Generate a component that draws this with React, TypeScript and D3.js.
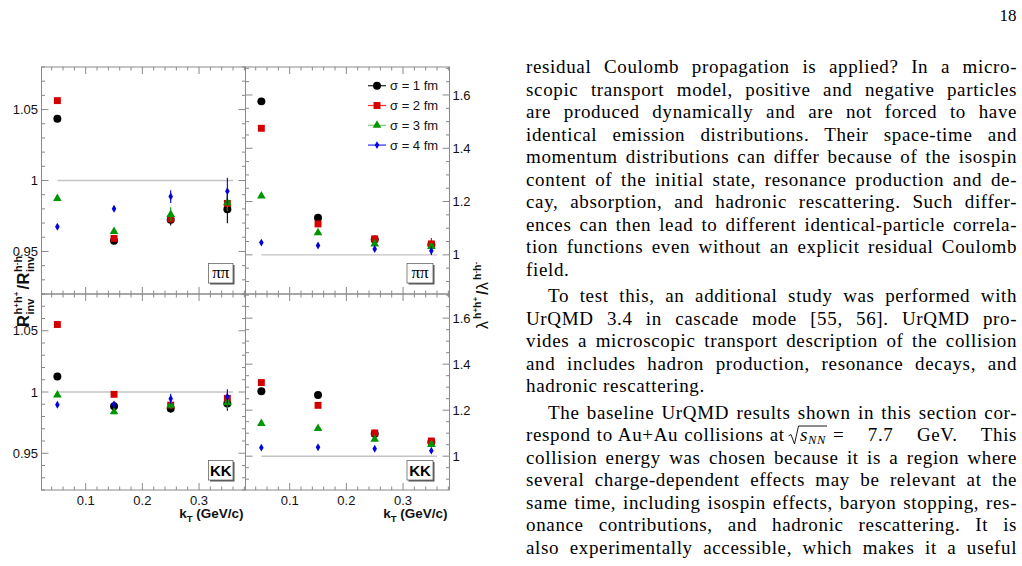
import { useEffect, useRef } from "react";
import * as d3 from "d3";

// kT bin centres and the four source sizes
const kT = [0.05, 0.15, 0.25, 0.35];
const sigmaLabels = ["σ = 1 fm", "σ = 2 fm", "σ = 3 fm", "σ = 4 fm"];
const markerColors = ["#000000", "#d40000", "#009600", "#0000e0"];
const legendLineColors = ["#222222", "#ff2a2a", "#78d078", "#2a2aff"];

// R_inv(h+h+)/R_inv(h-h-) for pions, one row per sigma
const rinvPiPi = [
  [1.0436, 0.9575, 0.9723, 0.9798],
  [1.0563, 0.9592, 0.973, 0.9838],
  [0.9873, 0.9641, 0.9761, 0.9843],
  [0.9674, 0.9801, 0.9887, 0.9925],
];
const rinvPiPiErr = [
  [0.001, 0.0015, 0.004, 0.01],
  [0.001, 0.0015, 0.003, 0.005],
  [0.001, 0.0015, 0.005, 0.006],
  [0.0012, 0.002, 0.0045, 0.0095],
];

// lambda(h+h+)/lambda(h-h-) for pions
const lambdaPiPi = [
  [1.576, 1.139, 1.058, 1.038],
  [1.475, 1.116, 1.06, 1.041],
  [1.221, 1.083, 1.041, 1.031],
  [1.046, 1.035, 1.022, 1.015],
];
const lambdaPiPiErr = [
  [0.004, 0.004, 0.006, 0.015],
  [0.004, 0.004, 0.006, 0.022],
  [0.004, 0.004, 0.006, 0.012],
  [0.006, 0.006, 0.008, 0.016],
];

// same ratios for kaons
const rinvKK = [
  [1.0127, 0.9884, 0.9865, 0.9907],
  [1.0551, 0.9981, 0.9893, 0.9948],
  [0.9975, 0.9838, 0.9893, 0.9912],
  [0.9896, 0.9898, 0.9945, 0.9962],
];
const rinvKKErr = [
  [0.0015, 0.0025, 0.0035, 0.006],
  [0.0015, 0.002, 0.003, 0.005],
  [0.0015, 0.002, 0.003, 0.005],
  [0.0015, 0.0025, 0.004, 0.006],
];
const lambdaKK = [
  [1.282, 1.266, 1.098, 1.062],
  [1.32, 1.221, 1.101, 1.066],
  [1.142, 1.12, 1.073, 1.051],
  [1.037, 1.039, 1.032, 1.024],
];
const lambdaKKErr = [
  [0.005, 0.005, 0.006, 0.008],
  [0.005, 0.005, 0.006, 0.008],
  [0.005, 0.005, 0.006, 0.008],
  [0.006, 0.006, 0.007, 0.009],
];

const kTTicks = [0.1, 0.2, 0.3];
const kTTickLabels = ["0.1", "0.2", "0.3"];
const rinvTicks = [0.95, 1, 1.05];
const rinvTickLabels = ["0.95", "1", "1.05"];
const lambdaTicks = [1, 1.2, 1.4, 1.6];
const lambdaTickLabels = ["1", "1.2", "1.4", "1.6"];

const kTDomain: [number, number] = [0.022, 0.382];
const rinvDomain: [number, number] = [0.92, 1.08];
const lambdaDomain: [number, number] = [0.853, 1.705];

// pad edges
const colX = [41.5, 245.5, 449.5];
const rowY = [67, 294, 490];

const SANS = "'Liberation Sans', Arial, Helvetica, sans-serif";
const SERIF = "'Liberation Serif', 'Times New Roman', serif";
const FRAME = "#8a8a8a";

const shapes = [d3.symbolCircle, d3.symbolSquare, d3.symbolTriangle, d3.symbolDiamond];
const shapeSizes = [50, 48, 32, 18];
const markerPath = (i: number) => d3.symbol().type(shapes[i]).size(shapeSizes[i])() || "";

type PanelProps = {
  x0: number;
  x1: number;
  y0: number;
  y1: number;
  side: "left" | "right";
  values: number[][];
  errors: number[][];
  label: "pipi" | "kk";
  bottom: boolean;
  legend?: boolean;
};

function Panel({ x0, x1, y0, y1, side, values, errors, label, bottom, legend }: PanelProps) {
  const x = d3.scaleLinear().domain(kTDomain).range([x0, x1]);
  const isR = side === "left";
  const y = d3
    .scaleLinear()
    .domain(isR ? rinvDomain : lambdaDomain)
    .range([y1, y0]);

  const yMajor = isR ? rinvTicks : lambdaTicks;
  const yLabels = isR ? rinvTickLabels : lambdaTickLabels;
  const yStep = isR ? 0.01 : 0.05;
  const yMinor = d3
    .range(Math.ceil(y.domain()[0] / yStep) * yStep, y.domain()[1], yStep)
    .filter((v) => !yMajor.some((m) => Math.abs(m - v) < 1e-6));
  const xMinor = d3
    .range(0.02, kTDomain[1], 0.02)
    .filter((v) => v > kTDomain[0] && !kTTicks.some((m) => Math.abs(m - v) < 1e-6));

  const MAJ = 7;
  const MIN = 3.5;
  const ticks: JSX.Element[] = [];
  // vertical axis ticks on both edges, pointing inward
  const yTick = (v: number, len: number, key: string) => {
    const py = y(v);
    ticks.push(<line key={key + "a"} x1={x0} x2={x0 + len} y1={py} y2={py} />);
    ticks.push(<line key={key + "b"} x1={x1} x2={x1 - len} y1={py} y2={py} />);
  };
  yMajor.forEach((v, i) => yTick(v, MAJ, "ym" + i));
  yMinor.forEach((v, i) => yTick(v, MIN, "yn" + i));
  const xTick = (v: number, len: number, key: string) => {
    const px = x(v);
    ticks.push(<line key={key + "a"} x1={px} x2={px} y1={y1} y2={y1 - len} />);
    ticks.push(<line key={key + "b"} x1={px} x2={px} y1={y0} y2={y0 + len} />);
  };
  kTTicks.forEach((v, i) => xTick(v, MAJ, "xm" + i));
  xMinor.forEach((v, i) => xTick(v, MIN, "xn" + i));

  // label pave placement inside the pad
  const boxW = side === "left" ? 24.5 : 26;
  const boxRight = side === "left" ? x1 - 12.5 : x1 - 16.5;
  const boxBottom = bottom ? y1 - 10 : y1 - 11;
  const boxH = 19.5;

  return (
    <g>
      <rect x={x0} y={y0} width={x1 - x0} height={y1 - y0} fill="none" stroke={FRAME} strokeWidth={1} />
      <g stroke={FRAME} strokeWidth={1}>{ticks}</g>

      {/* tick labels */}
      <g fontFamily={SANS} fontSize={13} fill="#111">
        {yMajor.map((v, i) =>
          side === "left" ? (
            <text key={i} x={x0 - 3.5} y={y(v) + 4.6} textAnchor="end">
              {yLabels[i]}
            </text>
          ) : (
            <text key={i} x={x1 + 3} y={y(v) + 4.6}>
              {yLabels[i]}
            </text>
          )
        )}
        {bottom &&
          kTTicks.map((v, i) => (
            <text key={"x" + i} x={x(v)} y={y1 + 14.7} textAnchor="middle">
              {kTTickLabels[i]}
            </text>
          ))}
      </g>
      {bottom && (
        <text x={x1 - 2} y={y1 + 28} textAnchor="end" fontFamily={SANS} fontSize={13.5} fontWeight="bold" fill="#111">
          k
          <tspan fontSize={9.5} dy={3.5}>T</tspan>
          <tspan dy={-3.5}> (GeV/c)</tspan>
        </text>
      )}

      {/* unity reference */}
      <line x1={x(0.05)} x2={x(0.36)} y1={y(1)} y2={y(1)} stroke="#c4c4c4" strokeWidth={1.4} />

      {/* points, sigma = 1 fm drawn first */}
      {values.map((series, s) => (
        <g key={s} fill={markerColors[s]} stroke={markerColors[s]}>
          {series.map((v, j) => (
            <g key={j}>
              <line
                x1={x(kT[j])}
                x2={x(kT[j])}
                y1={y(v - errors[s][j])}
                y2={y(v + errors[s][j])}
                strokeWidth={1.1}
              />
              <path d={markerPath(s)} transform={`translate(${x(kT[j])},${y(v)})`} stroke="none" />
            </g>
          ))}
        </g>
      ))}

      {/* particle-pair label */}
      <rect x={boxRight - boxW + 1.5} y={boxBottom - boxH + 1.5} width={boxW} height={boxH} fill="#555" />
      <rect x={boxRight - boxW} y={boxBottom - boxH} width={boxW} height={boxH} fill="#fff" stroke="#666" strokeWidth={0.8} />
      {label === "pipi" ? (
        <text
          x={boxRight - boxW / 2}
          y={boxBottom - 5}
          textAnchor="middle"
          fontFamily={SERIF}
          fontSize={17}
          fill="#000"
        >
          ππ
        </text>
      ) : (
        <text
          x={boxRight - boxW / 2}
          y={boxBottom - 4.5}
          textAnchor="middle"
          fontFamily={SANS}
          fontWeight="bold"
          fontSize={15}
          fill="#000"
        >
          KK
        </text>
      )}

      {legend && (
        <g fontFamily={SANS} fontSize={13} fill="#111">
          {sigmaLabels.map((lab, s) => {
            const ly = y0 + 18.7 + s * 19.8;
            return (
              <g key={s}>
                <line x1={x1 - 81.5} x2={x1 - 63.5} y1={ly} y2={ly} stroke={legendLineColors[s]} strokeWidth={1.2} />
                <path d={markerPath(s)} transform={`translate(${x1 - 72.5},${ly})`} fill={markerColors[s]} />
                <text x={x1 - 59.5} y={ly + 4.6}>
                  {lab}
                </text>
              </g>
            );
          })}
        </g>
      )}
    </g>
  );
}

// page text beside the figure
const TEXT_LEFT = 526;
const TEXT_RIGHT = 1016.5;
const INDENT = 22;
const pageLines: { text: string; indent?: boolean; last?: boolean; parStart?: boolean }[] = [
  { text: "residual Coulomb propagation is applied? In a micro-" },
  { text: "scopic transport model, positive and negative particles" },
  { text: "are produced dynamically and are not forced to have" },
  { text: "identical emission distributions. Their space-time and" },
  { text: "momentum distributions can differ because of the isospin" },
  { text: "content of the initial state, resonance production and de-" },
  { text: "cay, absorption, and hadronic rescattering. Such differ-" },
  { text: "ences can then lead to different identical-particle correla-" },
  { text: "tion functions even without an explicit residual Coulomb" },
  { text: "field.", last: true },
  { text: "To test this, an additional study was performed with", indent: true, parStart: true },
  { text: "UrQMD 3.4 in cascade mode [55, 56]. UrQMD pro-" },
  { text: "vides a microscopic transport description of the collision" },
  { text: "and includes hadron production, resonance decays, and" },
  { text: "hadronic rescattering.", last: true },
  { text: "The baseline UrQMD results shown in this section cor-", indent: true, parStart: true },
  { text: "SQRT" },
  { text: "collision energy was chosen because it is a region where" },
  { text: "several charge-dependent effects may be relevant at the" },
  { text: "same time, including isospin effects, baryon stopping, res-" },
  { text: "onance contributions, and hadronic rescattering. It is" },
  { text: "also experimentally accessible, which makes it a useful" },
];
const FIRST_BASELINE = 73;
const LINE_SKIP = 22.5;
const PAR_SKIP = 4;
const LETTER_SPACING = 0.65;

export default function App() {
  const svgRef = useRef<SVGSVGElement>(null);

  useEffect(() => {
    // justify lines by spreading the inter-word space
    d3.select(svgRef.current)
      .selectAll<SVGTextElement, unknown>("text.justify")
      .each(function () {
        const target = +(this.getAttribute("data-width") || 0);
        const txt = this.textContent || "";
        const gaps = (txt.match(/ /g) || []).length;
        this.style.wordSpacing = "0px";
        const natural = this.getComputedTextLength() - LETTER_SPACING;
        if (gaps > 0) this.style.wordSpacing = `${(target - natural) / gaps}px`;
      });
  }, []);

  let yPos = FIRST_BASELINE - LINE_SKIP;
  const textEls = pageLines.map((ln, i) => {
    yPos += LINE_SKIP + (ln.parStart ? PAR_SKIP : 0);
    const by = yPos;
    if (ln.text === "SQRT") {
      return (
        <g key={i}>
          <text className="justify" data-width={258} x={TEXT_LEFT} y={by}>
            respond to Au+Au collisions at
          </text>
          <path
            d={`M788.5,${by - 5} L791,${by - 6.5} L794.5,${by + 3} L798.5,${by - 15} L827,${by - 15}`}
            fill="none"
            stroke="#000"
            strokeWidth={0.9}
          />
          <text x={800} y={by} fontStyle="italic">
            s
            <tspan fontSize={12.5} dy={3}>
              NN
            </tspan>
          </text>
          <text className="justify" data-width={TEXT_RIGHT - 833} x={833} y={by}>
            = 7.7 GeV. This
          </text>
        </g>
      );
    }
    const x0 = TEXT_LEFT + (ln.indent ? INDENT : 0);
    return (
      <text key={i} className={ln.last ? undefined : "justify"} data-width={TEXT_RIGHT - x0} x={x0} y={by}>
        {ln.text}
      </text>
    );
  });

  return (
    <svg
      ref={svgRef}
      width={1022}
      height={566}
      style={{ position: "absolute", left: 0, top: 0, background: "#fff" }}
    >
      <rect width={1022} height={566} fill="#fff" />

      <Panel x0={colX[0]} x1={colX[1]} y0={rowY[0]} y1={rowY[1]} side="left" values={rinvPiPi} errors={rinvPiPiErr} label="pipi" bottom={false} />
      <Panel x0={colX[1]} x1={colX[2]} y0={rowY[0]} y1={rowY[1]} side="right" values={lambdaPiPi} errors={lambdaPiPiErr} label="pipi" bottom={false} legend />
      <Panel x0={colX[0]} x1={colX[1]} y0={rowY[1]} y1={rowY[2]} side="left" values={rinvKK} errors={rinvKKErr} label="kk" bottom />
      <Panel x0={colX[1]} x1={colX[2]} y0={rowY[1]} y1={rowY[2]} side="right" values={lambdaKK} errors={lambdaKKErr} label="kk" bottom />

      {/* left axis title: R_inv(h+h+)/R_inv(h-h-) */}
      <g transform="translate(29,327) rotate(-90)" fontFamily={SANS} fontWeight="bold" fill="#111">
        <text x={0} y={0} fontSize={16.5}>R</text>
        <text x={12.5} y={-7} fontSize={11}>
          h<tspan fontSize={8} dy={-3}>+</tspan>
          <tspan dy={3}>h</tspan>
          <tspan fontSize={8} dy={-3}>+</tspan>
        </text>
        <text x={12.5} y={4.5} fontSize={11}>inv</text>
        <text x={37.5} y={0} fontSize={16.5}>/</text>
        <text x={42.5} y={0} fontSize={16.5}>R</text>
        <text x={55} y={-7} fontSize={11}>
          h<tspan fontSize={8} dy={-3}>-</tspan>
          <tspan dy={3}>h</tspan>
          <tspan fontSize={8} dy={-3}>-</tspan>
        </text>
        <text x={55} y={4.5} fontSize={11}>inv</text>
      </g>

      {/* right axis title: lambda(h+h+)/lambda(h-h-) */}
      <g transform="translate(488,329) rotate(-90)" fontFamily={SANS} fill="#111">
        <text x={0} y={0} fontSize={16}>λ</text>
        <text x={10} y={-7.5} fontSize={10.5} fontWeight="bold">
          h<tspan fontSize={8} dy={-3}>+</tspan>
          <tspan dy={3}>h</tspan>
          <tspan fontSize={8} dy={-3}>+</tspan>
        </text>
        <text x={34} y={0} fontSize={16} fontWeight="bold">/</text>
        <text x={39} y={0} fontSize={16}>λ</text>
        <text x={49} y={-7.5} fontSize={10.5} fontWeight="bold">
          h<tspan fontSize={8} dy={-3}>-</tspan>
          <tspan dy={3}>h</tspan>
          <tspan fontSize={8} dy={-3}>-</tspan>
        </text>
      </g>

      <text x={1016.5} y={21} textAnchor="end" fontFamily={SERIF} fontSize={17} fill="#000">
        18
      </text>

      <g fontFamily={SERIF} fontSize={19} fill="#000" letterSpacing={LETTER_SPACING}>
        {textEls}
      </g>
    </svg>
  );
}
